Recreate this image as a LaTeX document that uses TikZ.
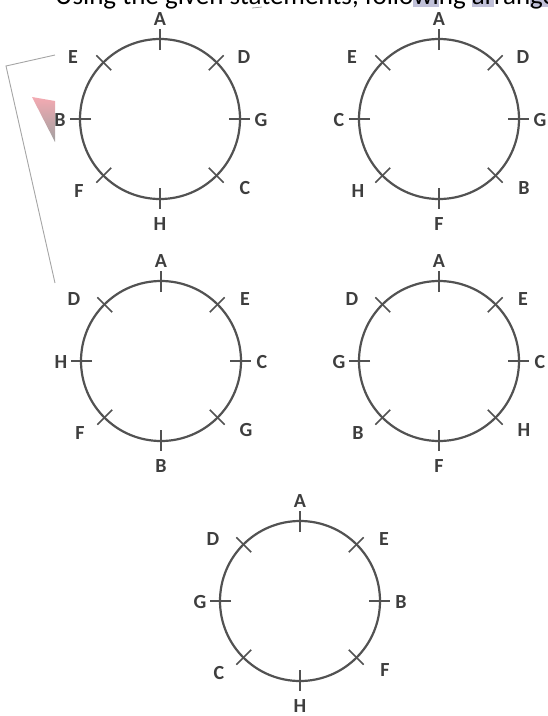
\documentclass[tikz,border=0pt]{standalone}
\usepackage{fontspec}
\setmainfont{Carlito}
\usetikzlibrary{calc}
\definecolor{ring}{RGB}{82,82,82}
\definecolor{lbl}{RGB}{62,62,62}
\definecolor{hl}{RGB}{192,192,216}
\definecolor{pagegray}{RGB}{165,165,165}
\definecolor{curlpink}{RGB}{244,170,178}
\definecolor{curlgray}{RGB}{160,160,160}
\newcommand\hlpart[1]{\setbox0\hbox{#1}\rlap{\textcolor{hl}{\rule[-2.5pt]{\wd0}{30pt}}}#1}
\tikzset{
  ringline/.style={draw=ring, line width=2.2pt},
  tickline/.style={draw=ring, line width=1.7pt},
  lab/.style={text=lbl, font=\fontsize{20}{20}\bfseries\selectfont, inner sep=0pt},
  headtext/.style={text=black, font=\fontsize{27}{27}\selectfont, inner sep=0pt, anchor=base west},
  pageedge/.style={draw=pagegray, line width=0.9pt},
}
\newcommand\seatring[3]{%
  \coordinate (#1) at (#2);
  \draw[ringline] (#1) circle[radius=80];
  \foreach \a in {0,45,...,315}{\draw[tickline] ($(#1)+(\a:69)$) -- ($(#1)+(\a:90)$);}
  \foreach \t [count=\i from 0] in {#3}{%
    \pgfmathsetmacro\dx{{0,84,101,85,0,-81,-100,-87}[\i]}%
    \pgfmathsetmacro\dy{{-100,-62,1,69,105,72,1,-62}[\i]}%
    \node[lab] (#1-\t) at ($(#1)+(\dx,\dy)$) {\t};}%
}
\begin{document}
\begin{tikzpicture}[x=1pt,y=-1pt]
\useasboundingbox (0,0) rectangle (548,716);
\clip (0,0) rectangle (548,716);
\node[headtext] (head) at (55,4.5) {Using the given statements, follo\hlpart{wi}ng \hlpart{ar}ran\hlpart{ge}};
% page edge and curl
\draw[pageedge] (55,55) -- (6,66) -- (55,283);
\draw[draw=pagegray, line width=0.8pt] (252,8) -- (262,7);
\shade[top color=curlpink, bottom color=curlgray] (32,97) -- (55,101) -- (55,142) -- cycle;
% rings
\seatring{r1}{160,119}{A,D,G,C,H,F,B,E}
\seatring{r2}{439,119}{A,D,G,B,F,H,C,E}
\seatring{r3}{161,361}{A,E,C,G,B,F,H,D}
\seatring{r4}{439,361}{A,E,C,H,F,B,G,D}
\seatring{r5}{300,601}{A,E,B,F,H,C,G,D}
\end{tikzpicture}
\end{document}
